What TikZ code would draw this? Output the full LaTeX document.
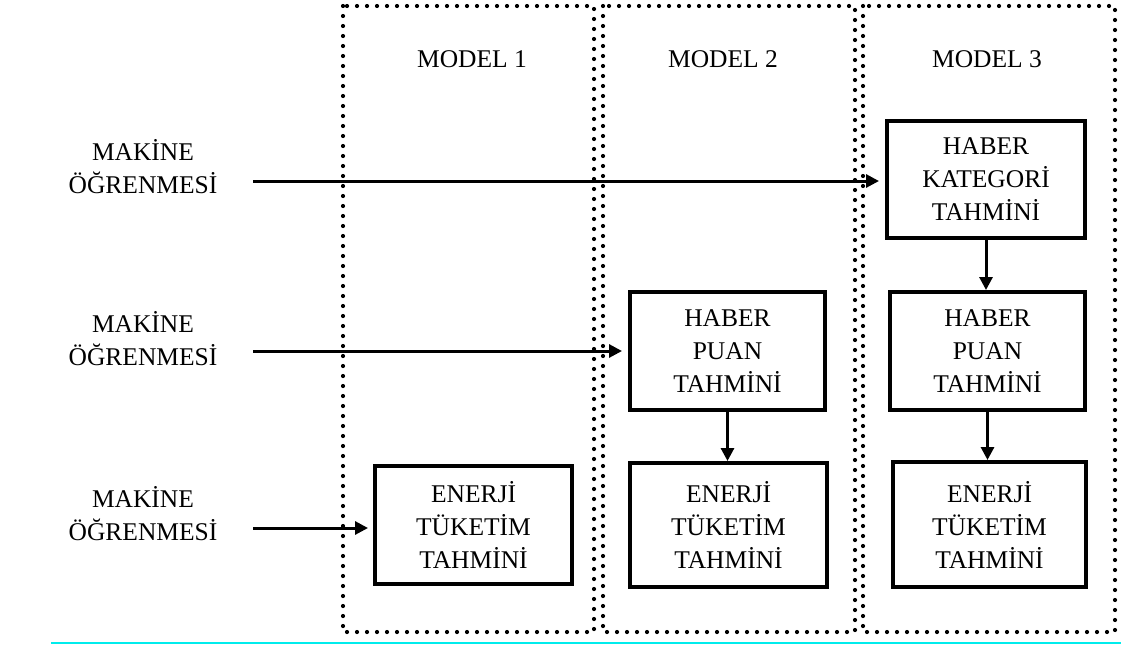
\documentclass[tikz,border=0pt]{standalone}
\usepackage{fontspec}
\setmainfont{Liberation Serif}
\usetikzlibrary{arrows.meta}
\definecolor{rulecyan}{RGB}{0,236,236}
\begin{document}
\begin{tikzpicture}[x=1pt,y=-1pt,
  txt/.style={font=\fontsize{25.5}{33}\selectfont, align=center, inner sep=0pt},
  boxn/.style={txt, draw, line width=4pt},
  frame/.style={line width=4.2pt, line cap=round, dash pattern=on 0pt off 10pt},
  arr/.style={line width=3pt, -{Triangle[length=13pt,width=13pt]}}
]
\useasboundingbox (0,0) rectangle (1121,648);
% dotted model frames
\draw[frame] (343,6) rectangle (594,632);
\draw[frame] (603,6) rectangle (855,632);
\draw[frame] (863,6) rectangle (1115,632);
% cyan rule
\draw[rulecyan, line width=2.5pt] (51,643) -- (1121,643);
% model titles
\node[txt] (t1) at (472,59) {MODEL 1};
\node[txt] (t2) at (723,59) {MODEL 2};
\node[txt] (t3) at (987,59) {MODEL 3};
% left labels
\node[txt] (l1) at (143,167) {MAKİNE\\ÖĞRENMESİ};
\node[txt] (l2) at (143,339) {MAKİNE\\ÖĞRENMESİ};
\node[txt] (l3) at (143,514) {MAKİNE\\ÖĞRENMESİ};
% boxes
\node[boxn, minimum width=198pt, minimum height=117pt] (k3) at (986,179.5) {HABER\\KATEGORİ\\TAHMİNİ};
\node[boxn, minimum width=195pt, minimum height=118pt] (p3) at (987.5,351) {HABER\\PUAN\\TAHMİNİ};
\node[boxn, minimum width=193pt, minimum height=125pt] (e3) at (989.5,524.5) {ENERJİ\\TÜKETİM\\TAHMİNİ};
\node[boxn, minimum width=195pt, minimum height=118pt] (p2) at (727.5,351) {HABER\\PUAN\\TAHMİNİ};
\node[boxn, minimum width=197pt, minimum height=124pt] (e2) at (728.5,525) {ENERJİ\\TÜKETİM\\TAHMİNİ};
\node[boxn, minimum width=197pt, minimum height=118pt] (e1) at (473.5,525) {ENERJİ\\TÜKETİM\\TAHMİNİ};
% arrow start points
\coordinate (s1) at (253,181);
\coordinate (s2) at (253,351);
\coordinate (s3) at (253,528);
\draw[arr, shorten >=6pt] (s1) -- (s1 -| k3.west);
\draw[arr, shorten >=6pt] (s2) -- (s2 -| p2.west);
\draw[arr, shorten >=5pt] (s3) -- (s3 -| e1.west);
\draw[arr] (k3.south) -- (k3.south |- p3.north);
\draw[arr] (p3.south) -- (p3.south |- e3.north);
\draw[arr] (p2.south) -- (p2.south |- e2.north);
\end{tikzpicture}
\end{document}
